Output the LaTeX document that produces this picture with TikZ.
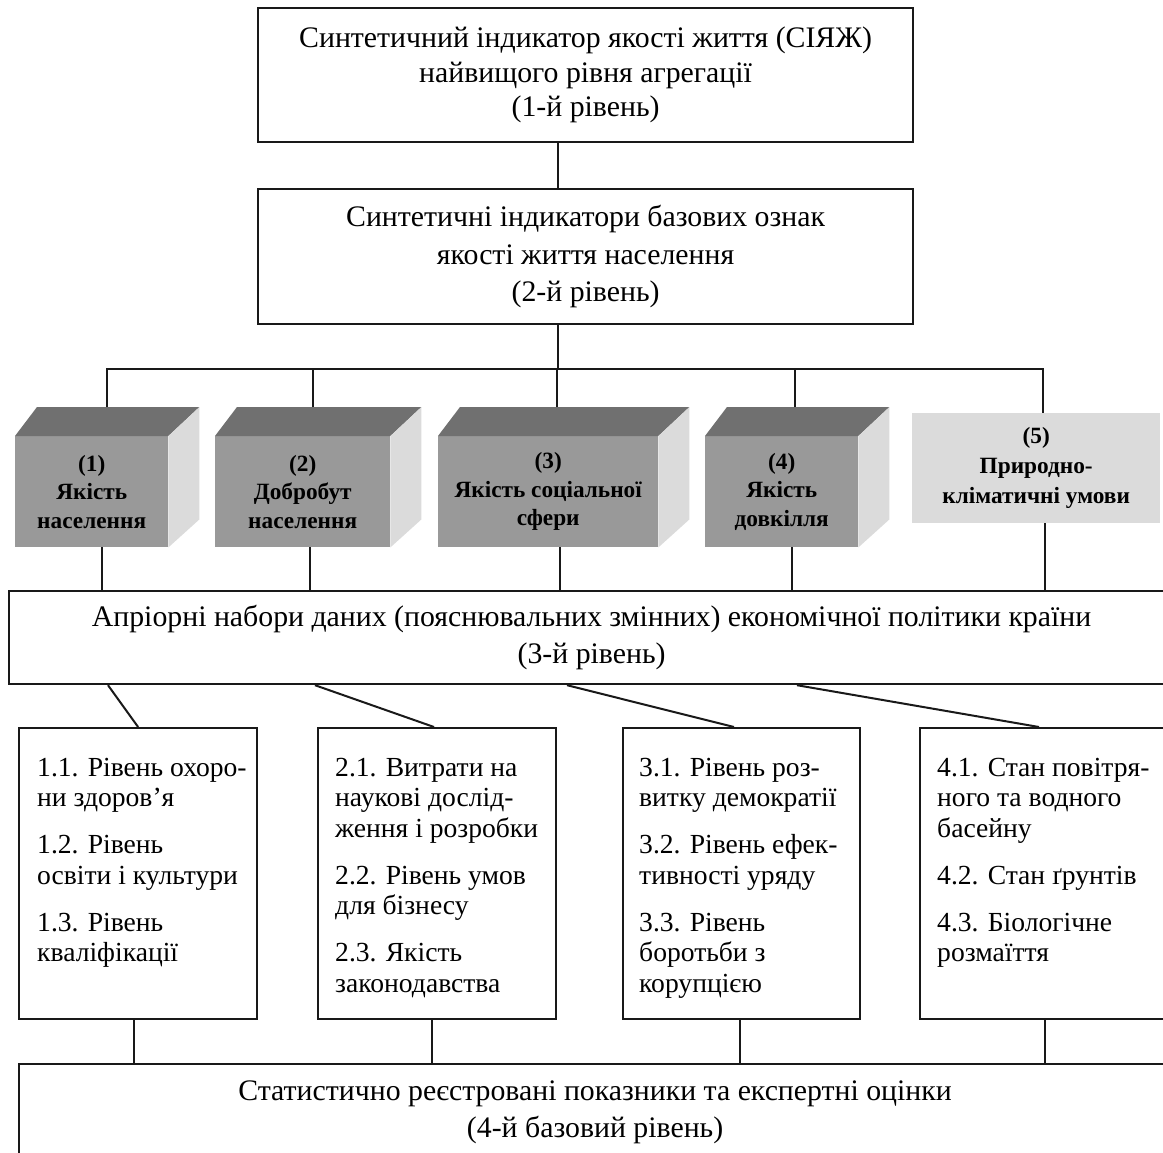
\documentclass[tikz,border=0pt]{standalone}
\usepackage{fontspec}
\setmainfont{Liberation Serif}
\usetikzlibrary{calc}
\definecolor{cfront}{gray}{0.60}
\definecolor{ctop}{gray}{0.44}
\definecolor{cside}{gray}{0.86}
\definecolor{cflat}{gray}{0.86}
\begin{document}
\begin{tikzpicture}[x=1pt,y=-1pt,
  ln/.style={line width=2pt,black!90},
  bigbox/.style={draw=black!90,line width=2.2pt,fill=white,align=center,inner sep=0pt,
     anchor=north west},
  cubefront/.style={fill=cfront,inner sep=0pt,align=center,
     font=\bfseries\fontsize{23.3}{28.5}\selectfont},
  subbox/.style={draw=black!90,line width=2.2pt,fill=white,inner sep=0pt,anchor=north west,
     minimum height=291},
  subtext/.style={align=left,anchor=north west,inner sep=0pt,
     font=\fontsize{27.6}{30.5}\selectfont}
]
\useasboundingbox (0,0) rectangle (1163,1153);
\clip (0,0) rectangle (1163,1153);
\fill[white] (0,0) rectangle (1163,1153);

% level 1 and 2
\node[bigbox,minimum width=655,minimum height=134,
  font=\fontsize{29.8}{34.5}\selectfont] (L1) at (257,7)
  {Синтетичний індикатор якості життя (СІЯЖ)\\найвищого рівня агрегації\\(1-й рівень)};
\node[bigbox,minimum width=655,minimum height=135,
  font=\fontsize{29.8}{37.5}\selectfont] (L2) at (257,188)
  {Синтетичні індикатори базових ознак\\якості життя населення\\(2-й рівень)};
\draw[ln] (L1.south -| 558,0) -- (L2.north -| 558,0);
\draw[ln] (L2.south -| 558,0) -- (558,369);

% cubes
\newcommand\mycube[6]{%
  \node[cubefront,minimum width=#3,minimum height=111,anchor=north west] (#1) at (#2,436) {#4};
  \fill[ctop] (#1.north west) -- ++(22,-29) -- ($(#1.north east)+(31,-29)$) -- (#1.north east) -- cycle;
  \fill[cside] (#1.north east) -- ++(31,-29) -- ($(#1.south east)+(31,-28)$) -- (#1.south east) -- cycle;
  \coordinate (#1t) at ($(#1.north)+(#5,-29)$);
  \coordinate (#1b) at ($(#1.south)+(#6,0)$);
}
\mycube{c1}{15}{153}{(1)\\Якість\\населення}{15.5}{10.5}
\mycube{c2}{215}{175}{(2)\\Добробут\\населення}{10.5}{7.5}
\mycube{c3}{438}{220}{(3)\\Якість соціальної\\сфери}{9}{12}
\mycube{c4}{705}{153}{(4)\\Якість\\довкілля}{13.5}{10.5}
\node[fill=cflat,inner sep=0pt,align=center,minimum width=248,minimum height=110,
  anchor=north west,font=\bfseries\fontsize{23.3}{30}\selectfont] (c5) at (912,413)
  {(5)\\Природно-\\кліматичні умови};
\coordinate (c5t) at ($(c5.north)+(7,0)$);
\coordinate (c5b) at ($(c5.south)+(9,0)$);

% distribution bar
\draw[ln] (c1t) -- ++(0,-38) -| (c5t);
\foreach \c in {c2t,c3t,c4t} \draw[ln] (\c) -- (\c |- 0,369);

% level 3
\node[bigbox,minimum width=1165,minimum height=93,
  font=\fontsize{29.8}{36.5}\selectfont] (L3) at (8,590)
  {Апріорні набори даних (пояснювальних змінних) економічної політики країни\\(3-й рівень)};
\foreach \c in {c1b,c2b,c3b,c4b,c5b} \draw[ln] (\c) -- (\c |- L3.north);

% sub boxes
\node[subbox,minimum width=238] (A) at (18,727) {};
\node[subbox,minimum width=238] (B) at (317,727) {};
\node[subbox,minimum width=237] (C) at (622,727) {};
\node[subbox,minimum width=250] (D) at (919,727) {};

\node[subtext] at ($(A.north west)+(19,31)$)
  {1.1. Рівень охоро-\\ни здоров’я\\[16.5pt]1.2. Рівень\\освіти і культури\\[16.5pt]1.3. Рівень\\кваліфікації};
\node[subtext] at ($(B.north west)+(18,31)$)
  {2.1. Витрати на\\наукові дослід-\\ження і розробки\\[16.5pt]2.2. Рівень умов\\для бізнесу\\[16.5pt]2.3. Якість\\законодавства};
\node[subtext] at ($(C.north west)+(17,31)$)
  {3.1. Рівень роз-\\витку демократії\\[16.5pt]3.2. Рівень ефек-\\тивності уряду\\[16.5pt]3.3. Рівень\\боротьби з\\корупцією};
\node[subtext] at ($(D.north west)+(18,31)$)
  {4.1. Стан повітря-\\ного та водного\\басейну\\[16.5pt]4.2. Стан ґрунтів\\[16.5pt]4.3. Біологічне\\розмаїття};

\draw[ln] (L3.south -| 108,0) -- (A.north);
\draw[ln] (L3.south -| 315,0) -- (B.north -| 434,0);
\draw[ln] (L3.south -| 567,0) -- (C.north -| 734,0);
\draw[ln] (L3.south -| 797,0) -- (D.north -| 1039,0);

% level 4
\node[bigbox,minimum width=1152,minimum height=97,
  font=\fontsize{29.8}{37}\selectfont] (L4) at (18,1063)
  {Статистично реєстровані показники та експертні оцінки\\(4-й базовий рівень)};
\draw[ln] (A.south -| 134,0) -- (L4.north -| 134,0);
\draw[ln] (B.south -| 432,0) -- (L4.north -| 432,0);
\draw[ln] (C.south -| 740,0) -- (L4.north -| 740,0);
\draw[ln] (D.south) -- (L4.north -| D.south);
\end{tikzpicture}
\end{document}
